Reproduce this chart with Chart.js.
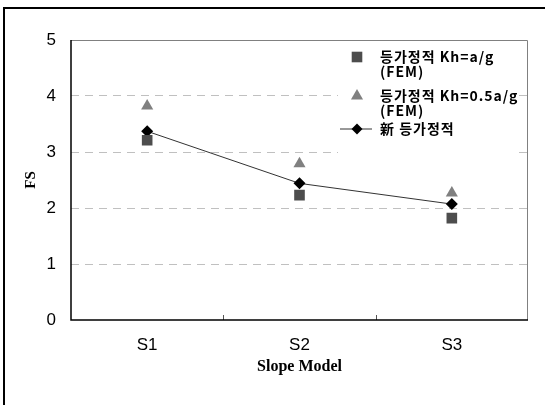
<!DOCTYPE html>
<html>
<head>
<meta charset="utf-8">
<script src="https://cdn.jsdelivr.net/npm/chart.js@4"></script>
<style>
  html, body { margin: 0; padding: 0; background: #fff; overflow: hidden; }
  #wrap { position: relative; width: 545px; height: 405px; }
</style>
</head>
<body>
<div id="wrap"><canvas id="myChart" width="545" height="405"></canvas></div>
<script>
// Datos
const modelos = ['S1', 'S2', 'S3'];
const femKh = [3.21, 2.23, 1.82];        // 등가정적 Kh=a/g (FEM)
const femKhHalf = [3.82, 2.79, 2.27];    // 등가정적 Kh=0.5a/g (FEM)
const nuevo = [3.37, 2.44, 2.07];        // 新 등가정적
const yTicks = [0, 1, 2, 3, 4, 5];

const legendItems = [
    { lines: ['등가정적 Kh=a/g', '(FEM)'], style: 'rect', color: '#4d4d4d', radius: 7.5 },
    { lines: ['등가정적 Kh=0.5a/g', '(FEM)'], style: 'triangle', color: '#808080', radius: 7 },
    { lines: ['新 등가정적'], style: 'rectRot', color: '#000', radius: 5.5, line: true }
];

// marcador de leyenda
function marca(ctx, style, r, x, y) {
    ctx.beginPath();
    if (style === 'rect') {
        const s = r * Math.SQRT1_2;
        ctx.rect(x - s, y - s, 2 * s, 2 * s);
    } else if (style === 'triangle') {
        ctx.moveTo(x, y - r);
        ctx.lineTo(x + r * 0.866, y + r * 0.5);
        ctx.lineTo(x - r * 0.866, y + r * 0.5);
        ctx.closePath();
    } else {
        ctx.moveTo(x - r, y);
        ctx.lineTo(x, y - r);
        ctx.lineTo(x + r, y);
        ctx.lineTo(x, y + r);
        ctx.closePath();
    }
    ctx.fill();
}

// Marco, borde del área y leyenda
const decor = {
    id: 'decor',
    beforeDraw(chart) {
        const ctx = chart.ctx;
        ctx.save();
        ctx.fillStyle = '#fff';
        ctx.fillRect(0, 0, chart.width, chart.height);
        ctx.strokeStyle = '#000';
        ctx.lineWidth = 2;
        ctx.strokeRect(4, 8, 700, 600);
        ctx.restore();
    },
    beforeDatasetsDraw(chart) {
        const { ctx, chartArea: a, scales } = chart;
        ctx.save();
        // fondo de la leyenda
        ctx.fillStyle = '#fff';
        ctx.fillRect(a.left + 267, a.top + 5, 178, 115);
        // ticks entre categorias
        ctx.strokeStyle = '#555';
        ctx.lineWidth = 1;
        const x = scales.x;
        for (let i = 0; i < modelos.length - 1; i++) {
            const px = Math.round((x.getPixelForValue(i) + x.getPixelForValue(i + 1)) / 2) + 0.5;
            ctx.beginPath();
            ctx.moveTo(px, a.bottom);
            ctx.lineTo(px, a.bottom - 5);
            ctx.stroke();
        }
        // borde
        ctx.strokeStyle = '#808080';
        ctx.beginPath();
        ctx.moveTo(a.left, a.top + 0.5);
        ctx.lineTo(a.right - 0.5, a.top + 0.5);
        ctx.lineTo(a.right - 0.5, a.bottom);
        ctx.stroke();
        ctx.strokeStyle = '#000';
        ctx.lineWidth = 1.5;
        ctx.beginPath();
        ctx.moveTo(a.left, a.top);
        ctx.lineTo(a.left, a.bottom);
        ctx.lineTo(a.right, a.bottom);
        ctx.stroke();
        ctx.restore();
    },
    afterDraw(chart) {
        const { ctx, chartArea: a } = chart;
        ctx.save();
        ctx.font = 'bold 14px "Noto Sans CJK KR"';
        ctx.letterSpacing = '1px';
        ctx.textBaseline = 'middle';
        const mx = a.left + 286, tx = a.left + 309;
        const rows = [57, 96, 129];
        legendItems.forEach((it, i) => {
            const y = rows[i];
            if (it.line) {
                ctx.strokeStyle = '#333';
                ctx.lineWidth = 1;
                ctx.beginPath();
                ctx.moveTo(mx - 17, y);
                ctx.lineTo(mx + 15, y);
                ctx.stroke();
            }
            ctx.fillStyle = it.color;
            marca(ctx, it.style, it.radius, mx, y);
            ctx.fillStyle = '#000';
            it.lines.forEach((t, j) => ctx.fillText(t, tx, y + j * 15));
        });
        ctx.restore();
    }
};

const ctx = document.getElementById('myChart').getContext('2d');
const myChart = new Chart(ctx, {
    type: 'line',
    data: {
        labels: modelos,
        datasets: [
            {
                label: '등가정적 Kh=a/g (FEM)',
                data: femKh,
                showLine: false,
                pointStyle: 'rect',
                pointRadius: 7.5,
                pointBackgroundColor: '#4d4d4d',
                pointBorderWidth: 0
            },
            {
                label: '등가정적 Kh=0.5a/g (FEM)',
                data: femKhHalf,
                showLine: false,
                pointStyle: 'triangle',
                pointRadius: 7,
                pointBackgroundColor: '#808080',
                pointBorderWidth: 0
            },
            {
                label: '新 등가정적',
                data: nuevo,
                borderColor: '#333',
                borderWidth: 1,
                pointStyle: 'rectRot',
                pointRadius: 6,
                pointBackgroundColor: '#000',
                pointBorderWidth: 0,
                tension: 0
            }
        ]
    },
    options: {
        responsive: false,
        animation: false,
        layout: { padding: { left: 18, top: 40, right: 17, bottom: 25 } },
        plugins: { legend: { display: false }, tooltip: { enabled: false } },
        scales: {
            x: {
                offset: true,
                grid: { display: false },
                border: { display: false },
                ticks: { color: '#000', padding: 7, font: { family: 'Liberation Sans', size: 17 } },
                title: {
                    display: true,
                    text: 'Slope Model',
                    color: '#000',
                    padding: { top: 4, bottom: 4 },
                    font: { family: 'Liberation Serif', size: 16, weight: 'bold' }
                },
                afterFit(s) { s.height = 405 - 320 - 25; }
            },
            y: {
                min: 0,
                max: 5,
                afterBuildTicks(s) { s.ticks = yTicks.map(v => ({ value: v })); },
                grid: {
                    drawTicks: false,
                    color: ctx => (ctx.tick.value > 0 && ctx.tick.value < 5) ? '#c0c0c0' : 'rgba(0,0,0,0)',
                    lineWidth: 1
                },
                border: { display: false, dash: [8, 6] },
                ticks: { color: '#000', padding: 15, font: { family: 'Liberation Sans', size: 17 } },
                title: {
                    display: true,
                    text: 'FS',
                    color: '#000',
                    padding: { top: 4, bottom: 4 },
                    font: { family: 'Liberation Serif', size: 15, weight: 'bold' }
                },
                afterFit(s) { s.width = 71 - 18; }
            }
        }
    },
    plugins: [decor]
});
</script>
</body>
</html>
